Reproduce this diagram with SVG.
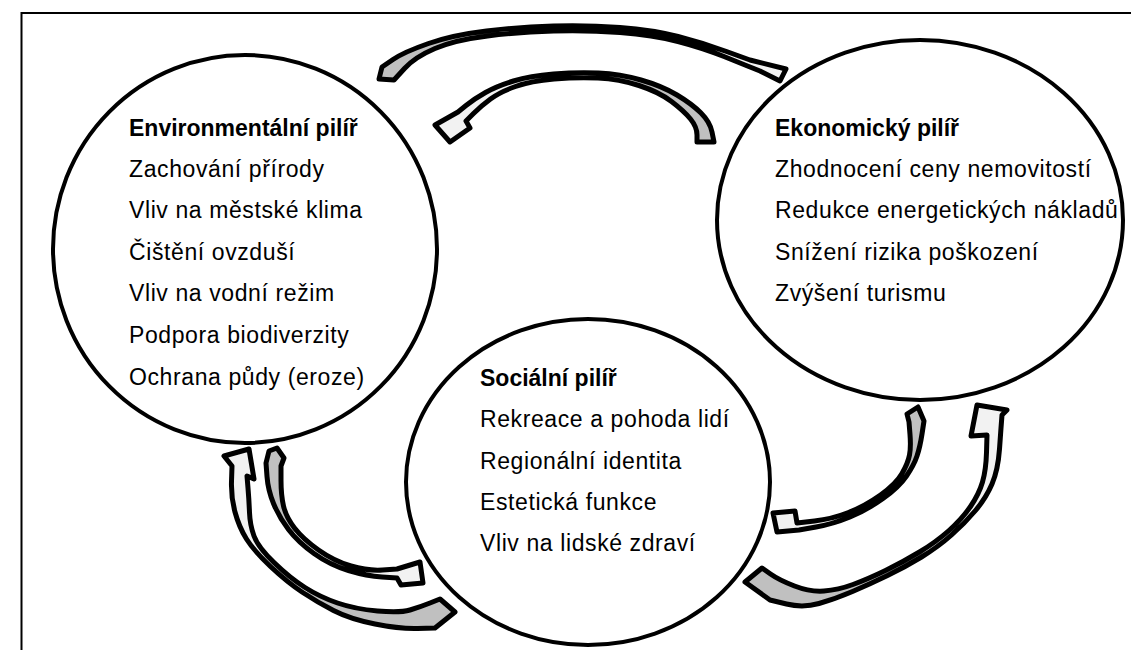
<svg xmlns="http://www.w3.org/2000/svg" width="1131" height="650" viewBox="0 0 1131 650">
<style>
.pillar{fill:#fff;stroke:#000;stroke-width:4}
.title{font-family:"Liberation Sans",Arial,sans-serif;font-size:23px;font-weight:bold;fill:#000}
.item{font-family:"Liberation Sans",Arial,sans-serif;font-size:23px;letter-spacing:0.6px;fill:#000}
.arrow{stroke:#000;stroke-width:5;stroke-linejoin:round}
.frame{fill:none;stroke:#000;stroke-width:2}
</style>
<defs>
<linearGradient id="g1" gradientUnits="userSpaceOnUse" x1="380" y1="75" x2="788" y2="75"><stop offset="0.5" stop-color="#c0c0c0"/><stop offset="0.5" stop-color="#f2f2f2"/></linearGradient>
<linearGradient id="g2" gradientUnits="userSpaceOnUse" x1="715" y1="100" x2="433" y2="100"><stop offset="0.45" stop-color="#c0c0c0"/><stop offset="0.45" stop-color="#f2f2f2"/></linearGradient>
<linearGradient id="g3" gradientUnits="userSpaceOnUse" x1="455" y1="615" x2="235" y2="460"><stop offset="0.5" stop-color="#c0c0c0"/><stop offset="0.5" stop-color="#f2f2f2"/></linearGradient>
<linearGradient id="g4" gradientUnits="userSpaceOnUse" x1="276" y1="455" x2="415" y2="575"><stop offset="0.35" stop-color="#c0c0c0"/><stop offset="0.35" stop-color="#f2f2f2"/></linearGradient>
<linearGradient id="g5" gradientUnits="userSpaceOnUse" x1="915" y1="412" x2="780" y2="522"><stop offset="0.35" stop-color="#c0c0c0"/><stop offset="0.35" stop-color="#f2f2f2"/></linearGradient>
<linearGradient id="g6" gradientUnits="userSpaceOnUse" x1="745" y1="590" x2="1000" y2="420"><stop offset="0.45" stop-color="#c0c0c0"/><stop offset="0.45" stop-color="#f2f2f2"/></linearGradient>
</defs>
<path class="frame" d="M21.5,660 V13 H1140"/>
<g id="environmental">
<ellipse class="pillar" cx="245" cy="249" rx="192" ry="194"/>
<text class="title" x="129" y="136">Environmentální pilíř</text>
<text class="item" x="129" y="177">Zachování přírody</text>
<text class="item" x="129" y="218">Vliv na městské klima</text>
<text class="item" x="129" y="260">Čištění ovzduší</text>
<text class="item" x="129" y="301">Vliv na vodní režim</text>
<text class="item" x="129" y="343">Podpora biodiverzity</text>
<text class="item" x="129" y="385">Ochrana půdy (eroze)</text>
</g>
<g id="economic">
<ellipse class="pillar" cx="920" cy="220" rx="203" ry="180"/>
<text class="title" x="775" y="136">Ekonomický pilíř</text>
<text class="item" x="775" y="177">Zhodnocení ceny nemovitostí</text>
<text class="item" x="775" y="218">Redukce energetických nákladů</text>
<text class="item" x="775" y="260">Snížení rizika poškození</text>
<text class="item" x="775" y="301">Zvýšení turismu</text>
</g>
<g id="social">
<ellipse class="pillar" cx="588" cy="482" rx="182" ry="163"/>
<text class="title" x="480" y="386">Sociální pilíř</text>
<text class="item" x="480" y="427">Rekreace a pohoda lidí</text>
<text class="item" x="480" y="469">Regionální identita</text>
<text class="item" x="480" y="510">Estetická funkce</text>
<text class="item" x="480" y="551">Vliv na lidské zdraví</text>
</g>
<g id="connectors">
<path class="arrow" fill="url(#g1)" d="M379,79 L382,67 L393,59.5 Q404,52 428.5,43.5 Q453,35 486.5,31 Q520,27 553.5,26 Q587,25 620,27.5 Q653,30 678,36.5 Q703,43 726.5,51.5 L750,60 L786,69 L780,81 L760,71 L745,65 L724,56.5 Q703,48 678,41.5 Q653,35 620,32.5 Q587,30 553.5,31 Q520,32 487.5,36 Q455,40 435,48.5 Q415,57 404.5,68.5 L394,80 Z"/>
<path class="arrow" fill="url(#g2)" d="M697,142 L714,142 L712,132 Q710,122 701,113 Q692,104 677,95 Q662,86 641,80 Q620,74 598.5,73 Q577,72 553.5,74 Q530,76 513.5,81 Q497,86 485.5,92.5 Q474,99 466,105.5 L458,112 L435,125 L450,142 L470,128 L466,121 L473.5,113.5 Q481,106 490.5,99 Q500,92 515.5,86.5 Q531,81 554,79 Q577,77 598,78 Q619,79 639,85.5 Q659,92 671.5,101.5 Q684,111 690.5,119 Q697,127 697,135 Z"/>
<path class="arrow" fill="url(#g3)" d="M249,449 L254,479 L247,476 L248,488 Q249,500 249.5,512.5 Q250,525 254,536 Q258,547 274,562.5 Q290,578 305,587.5 Q320,597 337.5,603 Q355,609 377.5,611 Q400,613 410,610 Q420,607 430,603 L440,599 L455,612 L435,628 L417.5,628.5 Q400,629 375,624 Q350,619 333.5,610.5 Q317,602 302,592 Q287,582 270.5,566.5 Q254,551 246.5,539 Q239,527 235,512 Q231,497 231.5,481.5 L232,466 L224,456 Z"/>
<path class="arrow" fill="url(#g4)" d="M269,451 L277,448 L284,458 L281,466 L281,480.5 Q281,495 283.5,506 Q286,517 294.5,528 Q303,539 318.5,550 Q334,561 351,566 Q368,571 382.5,570 L397,569 L420,562 L423,583 L401,585 L397,578 L382,577 Q367,576 348.5,570.5 Q330,565 314,553.5 Q298,542 288.5,529.5 Q279,517 273.5,503.5 Q268,490 267,476.5 L266,463 Z"/>
<path class="arrow" fill="url(#g5)" d="M907,414 L918,407 L924,421 L922,434 Q920,447 917,456 Q914,465 906.5,476 Q899,487 883,498.5 Q867,510 850,517 Q833,524 816,527 L799,530 L777,532 L773,513 L795,511 L797,523 L814.5,521 Q832,519 848.5,512.5 Q865,506 880.5,495 Q896,484 902,473.5 Q908,463 909.5,455 Q911,447 910,434.5 L909,422 Z"/>
<path class="arrow" fill="url(#g6)" d="M977,405 L1007,410 L1002,415 L1001,428 L999.5,449 Q998,470 992,484 Q986,498 975.5,510.5 Q965,523 951.5,535 Q938,547 921.5,557 Q905,567 887.5,575.5 Q870,584 852.5,591.5 Q835,599 819,603.5 Q803,608 786.5,604 L770,600 L745,582 L762,568 L770.5,574 Q779,580 794.5,586 Q810,592 824,591 Q838,590 853,584.5 Q868,579 885.5,570.5 Q903,562 919.5,552 Q936,542 949,530.5 Q962,519 970.5,506.5 Q979,494 982.5,482 Q986,470 986.5,452.5 L987,435 L971,436 Z"/>
</g>
</svg>
